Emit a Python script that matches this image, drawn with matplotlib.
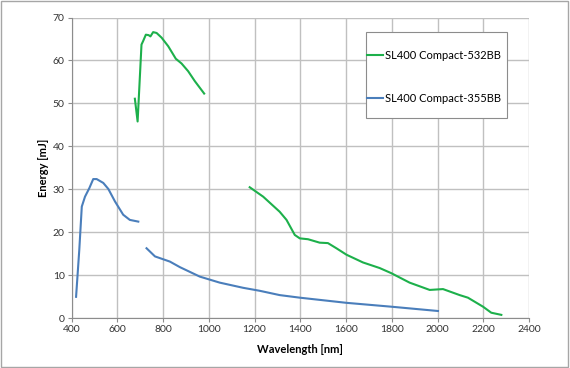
import numpy as np
from matplotlib import pyplot as plt
from matplotlib.patches import Rectangle

# SL400 Compact-532BB, visible branch and IR branch
green_vis_nm = [677, 689, 706, 713, 725, 737, 745, 757, 772, 794, 823, 856, 881, 910, 939, 980]
green_vis_mj = [51.1, 45.8, 63.7, 64.5, 66.0, 65.9, 65.6, 66.6, 66.4, 65.3, 63.3, 60.4, 59.3, 57.5, 55.2, 52.3]
green_ir_nm = [1179, 1238, 1310, 1340, 1376, 1398, 1434, 1485, 1521, 1558, 1602, 1674, 1747, 1798,
               1878, 1966, 2024, 2097, 2133, 2199, 2235, 2279]
green_ir_mj = [30.5, 28.3, 24.8, 22.9, 19.4, 18.6, 18.4, 17.6, 17.5, 16.3, 14.8, 13.0, 11.7, 10.5,
               8.3, 6.6, 6.8, 5.4, 4.8, 2.7, 1.3, 0.8]

# SL400 Compact-355BB, UV branch and longer branch
blue_uv_nm = [420, 434, 445, 459, 478, 495, 510, 539, 561, 590, 626, 655, 692]
blue_uv_mj = [5.0, 15.9, 26.0, 28.3, 30.3, 32.4, 32.4, 31.5, 30.1, 27.2, 24.1, 22.9, 22.5]
blue_ir_nm = [728, 765, 830, 874, 961, 1048, 1150, 1223, 1310, 1398, 1602, 1798, 2002]
blue_ir_mj = [16.3, 14.4, 13.2, 11.9, 9.7, 8.3, 7.1, 6.4, 5.4, 4.8, 3.6, 2.7, 1.7]

GREEN = "#1db04b"
BLUE = "#4a7ebb"

plt.rcParams["font.family"] = ["Lato", "DejaVu Sans"]

fig = plt.figure(figsize=(5.7, 3.68), dpi=100)
ax = fig.add_axes([71.5 / 570, 1 - 318.3 / 368, (529 - 71.5) / 570, (318.3 - 17.5) / 368])

ax.plot(green_vis_nm, green_vis_mj, color=GREEN, lw=1.5, label="SL400 Compact-532BB")
ax.plot(green_ir_nm, green_ir_mj, color=GREEN, lw=1.5)
ax.plot(blue_uv_nm, blue_uv_mj, color=BLUE, lw=1.5, label="SL400 Compact-355BB")
ax.plot(blue_ir_nm, blue_ir_mj, color=BLUE, lw=1.5)

ax.set_xlim(400, 2400)
ax.set_ylim(0, 70)
ax.set_xticks(np.arange(400, 2401, 200))
ax.set_yticks(np.arange(0, 71, 10))
ax.grid(True, color="#c0c0c0", lw=1.0)
ax.set_axisbelow(True)
for s in ["top", "right"]:
    ax.spines[s].set_visible(False)
for s in ["left", "bottom"]:
    ax.spines[s].set_color("#8c8c8c")
ax.tick_params(direction="out", length=3, color="#8c8c8c", labelsize=7.5, labelcolor="#333333", pad=2)

ax.set_xlabel("Wavelength [nm]", fontsize=8, fontweight="bold", labelpad=7)
ax.set_ylabel("Energy [mJ]", fontsize=8, fontweight="bold", labelpad=3)

# legend box drawn by hand so the padding matches
fig.patches.append(Rectangle((365.7 / 570, 1 - 118 / 368), (507 - 365.7) / 570, (118 - 31.7) / 368,
                             transform=fig.transFigure, facecolor="white", edgecolor="#8c8c8c",
                             lw=0.8, zorder=5))
leg = fig.legend(loc="upper left", bbox_to_anchor=(367 / 570, 1 - 50 / 368), frameon=False,
                 fontsize=8, handlelength=1.45, handletextpad=0.15, labelspacing=2.85,
                 borderpad=0, borderaxespad=0)
leg.set_zorder(6)

fig.patches.append(Rectangle((0.002, 0.003), 0.995, 0.993, transform=fig.transFigure,
                             facecolor="none", edgecolor="#a6a6a6", lw=1.0))

fig.savefig("out.png", dpi=100)
